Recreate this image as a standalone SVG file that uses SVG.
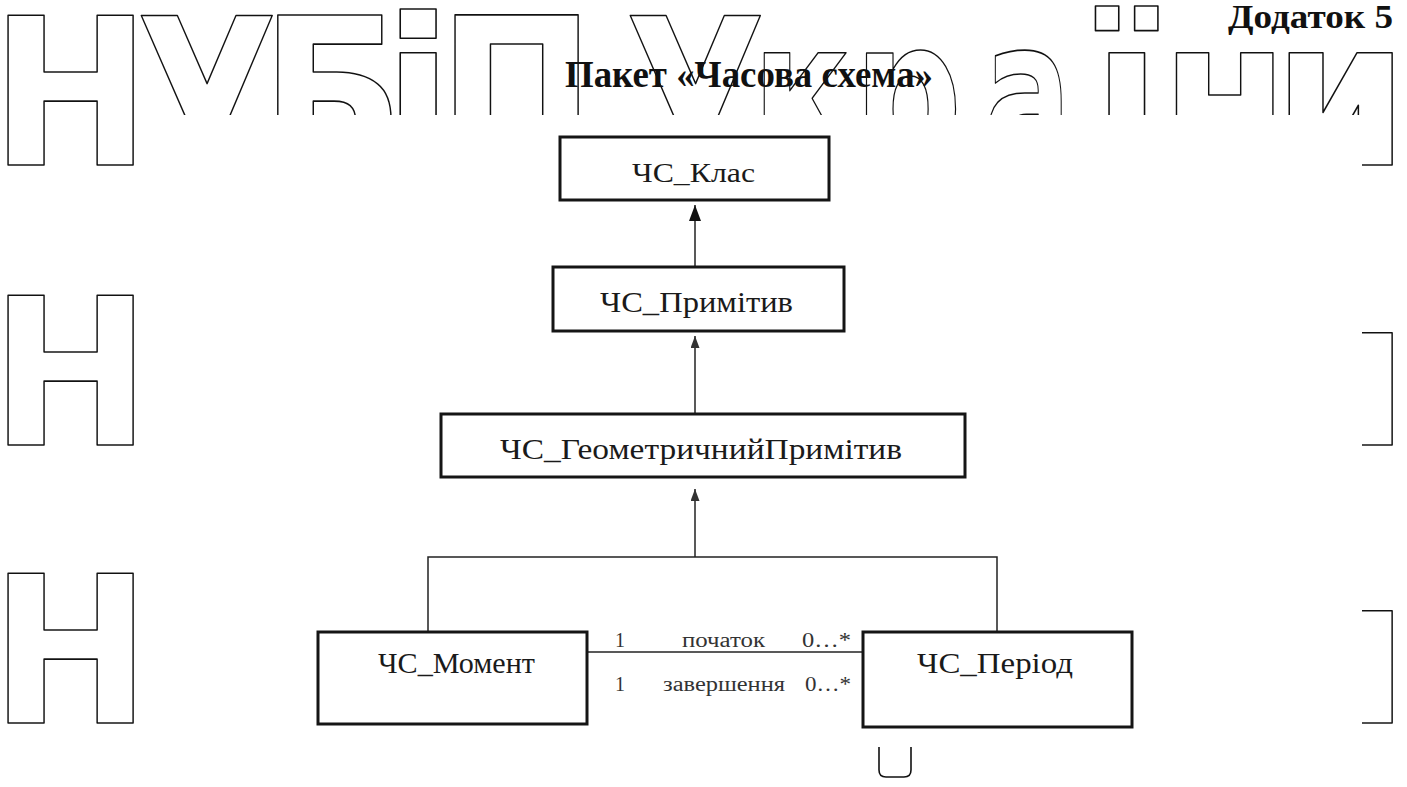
<svg xmlns="http://www.w3.org/2000/svg" width="1407" height="787" viewBox="0 0 1407 787">
<defs>
<style>
.wm{font-family:"DejaVu Sans",sans-serif;font-weight:bold;font-size:205px;fill:none;stroke:#111;stroke-width:1.6;stroke-linejoin:round}
.box{fill:#fff;stroke:#151515;stroke-width:3}
.lbl{font-family:"Liberation Serif","Times New Roman",serif;fill:#1a1a1a}
.small{font-family:"Liberation Serif","Times New Roman",serif;font-size:20px;fill:#333}
.con{fill:none;stroke:#222;stroke-width:1.5}
.ttl{font-family:"Liberation Serif","Times New Roman",serif;font-weight:bold;fill:#111}
</style>
<marker id="head" markerUnits="userSpaceOnUse" markerWidth="16" markerHeight="12" refX="16" refY="6" orient="auto">
<path d="M0,0 L16,6 L0,12 z" fill="#111"/>
</marker>
<marker id="headSmall" markerUnits="userSpaceOnUse" markerWidth="12" markerHeight="9" refX="12" refY="4.5" orient="auto">
<path d="M0,0 L12,4.5 L0,9 z" fill="#333"/>
</marker>
<g id="wmrow">
<text class="wm" x="-9.6" y="0" textLength="160.2" lengthAdjust="spacingAndGlyphs">Н</text>
<text class="wm" x="136" y="0" textLength="141.7" lengthAdjust="spacingAndGlyphs">У</text>
<text class="wm" x="260.6" y="0" textLength="143.7" lengthAdjust="spacingAndGlyphs">Б</text>
<text class="wm" x="383" y="0" textLength="70.3" lengthAdjust="spacingAndGlyphs">і</text>
<text class="wm" x="437.7" y="0" textLength="157.7" lengthAdjust="spacingAndGlyphs">П</text>
<text class="wm" x="625" y="0" textLength="140.7" lengthAdjust="spacingAndGlyphs">У</text>
<text class="wm" x="752" y="0" textLength="99.1" lengthAdjust="spacingAndGlyphs">к</text>
<text class="wm" x="853.7" y="0" textLength="108.6" lengthAdjust="spacingAndGlyphs">р</text>
<text class="wm" x="983.5" y="0" textLength="88" lengthAdjust="spacingAndGlyphs">а</text>
<text class="wm" x="1092" y="0" textLength="69.6" lengthAdjust="spacingAndGlyphs">ї</text>
<text class="wm" x="1161" y="0" textLength="127.4" lengthAdjust="spacingAndGlyphs">н</text>
<text class="wm" x="1273" y="0" textLength="135.3" lengthAdjust="spacingAndGlyphs">и</text>
</g>
</defs>
<rect width="1407" height="787" fill="#fff"/>
<g id="watermark">
<use href="#wmrow" transform="translate(0,165)"/>
<use href="#wmrow" transform="translate(0,445)"/>
<use href="#wmrow" transform="translate(0,723)"/>
<rect x="140" y="115" width="1222" height="672" fill="#fff"/>
<path d="M879,747 V770 Q879,777 886,777 H904 Q911,777 911,770 V747" fill="none" stroke="#111" stroke-width="1.6"/>
</g>
<g id="title">
<text class="ttl" x="565" y="87" font-size="37" textLength="368" lengthAdjust="spacingAndGlyphs">Пакет «Часова схема»</text>
</g>
<g id="appendix">
<text class="ttl" x="1228" y="28" font-size="33" textLength="165" lengthAdjust="spacingAndGlyphs">Додаток 5</text>
</g>
<g id="connectors">
<line class="con" x1="695" y1="267" x2="695" y2="205" marker-end="url(#head)"/>
<line class="con" x1="695" y1="414" x2="695" y2="336" marker-end="url(#headSmall)"/>
<line class="con" x1="695" y1="557" x2="695" y2="489" marker-end="url(#headSmall)"/>
<polyline class="con" points="428,631 428,557 997,557 997,632"/>
<line class="con" x1="587" y1="652" x2="863" y2="652"/>
<text class="small" x="615" y="647">1</text>
<text class="small" x="682" y="647" textLength="83" lengthAdjust="spacingAndGlyphs">початок</text>
<text class="small" x="802" y="647" textLength="49" lengthAdjust="spacingAndGlyphs">0…*</text>
<text class="small" x="615" y="691">1</text>
<text class="small" x="663" y="691" textLength="122" lengthAdjust="spacingAndGlyphs">завершення</text>
<text class="small" x="805" y="691" textLength="46" lengthAdjust="spacingAndGlyphs">0…*</text>
</g>
<g id="cs-klas">
<rect class="box" x="560" y="137" width="269" height="63"/>
<text class="lbl" x="632" y="182" font-size="27" textLength="123" lengthAdjust="spacingAndGlyphs">ЧС_Клас</text>
</g>
<g id="cs-prymityv">
<rect class="box" x="553" y="267" width="291" height="64"/>
<text class="lbl" x="600" y="312" font-size="29" textLength="193" lengthAdjust="spacingAndGlyphs">ЧС_Примітив</text>
</g>
<g id="cs-geom">
<rect class="box" x="441" y="414" width="524" height="63"/>
<text class="lbl" x="500" y="459" font-size="29" textLength="402" lengthAdjust="spacingAndGlyphs">ЧС_ГеометричнийПримітив</text>
</g>
<g id="cs-moment">
<rect class="box" x="318" y="632" width="269" height="92"/>
<text class="lbl" x="378" y="673" font-size="29" textLength="157" lengthAdjust="spacingAndGlyphs">ЧС_Момент</text>
</g>
<g id="cs-period">
<rect class="box" x="863" y="632" width="269" height="95"/>
<text class="lbl" x="917" y="673" font-size="29" textLength="156" lengthAdjust="spacingAndGlyphs">ЧС_Період</text>
</g>
</svg>
